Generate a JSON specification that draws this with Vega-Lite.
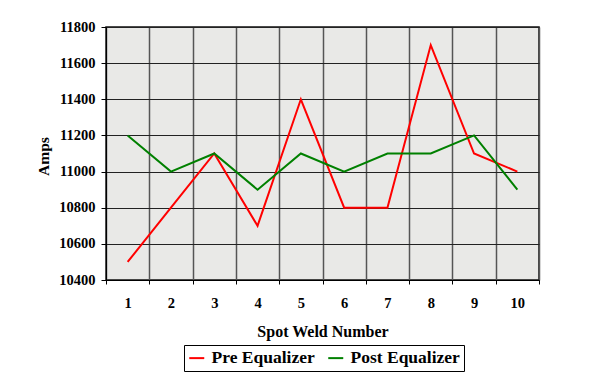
{
  "$schema": "https://vega.github.io/schema/vega-lite/v6.json",
  "autosize": "none",
  "width": 433,
  "height": 253,
  "padding": {"left": 106, "top": 27, "right": 54, "bottom": 96},
  "background": "white",
  "config": {
    "font": "Liberation Serif",
    "view": {"fill": "#e9e9e7", "stroke": "#111", "strokeWidth": 1.5},
    "axis": {
      "labelFont": "Liberation Serif",
      "labelFontWeight": "bold",
      "labelColor": "black",
      "titleFont": "Liberation Serif",
      "titleFontWeight": "bold",
      "titleColor": "black",
      "domainColor": "black",
      "tickColor": "black"
    },
    "legend": {
      "labelFont": "Liberation Serif",
      "labelFontWeight": "bold",
      "labelColor": "black"
    }
  },
  "data": {
    "values": [
      {"spot": 1, "series": "Pre Equalizer", "amps": 10500},
      {"spot": 2, "series": "Pre Equalizer", "amps": 10800},
      {"spot": 3, "series": "Pre Equalizer", "amps": 11100},
      {"spot": 4, "series": "Pre Equalizer", "amps": 10700},
      {"spot": 5, "series": "Pre Equalizer", "amps": 11400},
      {"spot": 6, "series": "Pre Equalizer", "amps": 10800},
      {"spot": 7, "series": "Pre Equalizer", "amps": 10800},
      {"spot": 8, "series": "Pre Equalizer", "amps": 11700},
      {"spot": 9, "series": "Pre Equalizer", "amps": 11100},
      {"spot": 10, "series": "Pre Equalizer", "amps": 11000},
      {"spot": 1, "series": "Post Equalizer", "amps": 11200},
      {"spot": 2, "series": "Post Equalizer", "amps": 11000},
      {"spot": 3, "series": "Post Equalizer", "amps": 11100},
      {"spot": 4, "series": "Post Equalizer", "amps": 10900},
      {"spot": 5, "series": "Post Equalizer", "amps": 11100},
      {"spot": 6, "series": "Post Equalizer", "amps": 11000},
      {"spot": 7, "series": "Post Equalizer", "amps": 11100},
      {"spot": 8, "series": "Post Equalizer", "amps": 11100},
      {"spot": 9, "series": "Post Equalizer", "amps": 11200},
      {"spot": 10, "series": "Post Equalizer", "amps": 10900}
    ]
  },
  "mark": {"type": "line", "strokeWidth": 2},
  "encoding": {
    "x": {
      "field": "spot",
      "type": "ordinal",
      "scale": {"paddingInner": 0, "paddingOuter": 0},
      "axis": {
        "title": "Spot Weld Number",
        "titleFontSize": 16,
        "titleBaseline": "alphabetic",
        "titleY": 56,
        "labelAngle": 0,
        "labelFontSize": 14.5,
        "labelPadding": 12,
        "tickBand": "extent",
        "tickSize": 4,
        "grid": true,
        "gridColor": "#555",
        "gridWidth": 1.5,
        "gridOpacity": 1
      }
    },
    "y": {
      "field": "amps",
      "type": "quantitative",
      "scale": {"domain": [10400, 11800], "zero": false, "nice": false},
      "axis": {
        "title": "Amps",
        "titleFontSize": 15.5,
        "titleAngle": -90,
        "titleBaseline": "alphabetic",
        "titleAlign": "center",
        "titleX": -58,
        "titleY": 129,
        "values": [10400, 10600, 10800, 11000, 11200, 11400, 11600, 11800],
        "format": "d",
        "labelFontSize": 14.5,
        "labelPadding": 6,
        "tickSize": 5,
        "grid": true,
        "gridColor": "#222",
        "gridWidth": 1,
        "gridOpacity": 1
      }
    },
    "color": {
      "field": "series",
      "type": "nominal",
      "sort": ["Pre Equalizer", "Post Equalizer"],
      "scale": {"domain": ["Pre Equalizer", "Post Equalizer"], "range": ["#ff0000", "#008000"]},
      "legend": {
        "title": null,
        "orient": "none",
        "direction": "horizontal",
        "legendX": 78,
        "legendY": 318,
        "strokeColor": "black",
        "padding": 4,
        "columnPadding": 9,
        "labelFontSize": 17.5,
        "labelOffset": 6,
        "labelLimit": 300,
        "symbolType": "stroke",
        "symbolSize": 225,
        "symbolStrokeWidth": 2
      }
    }
  }
}
